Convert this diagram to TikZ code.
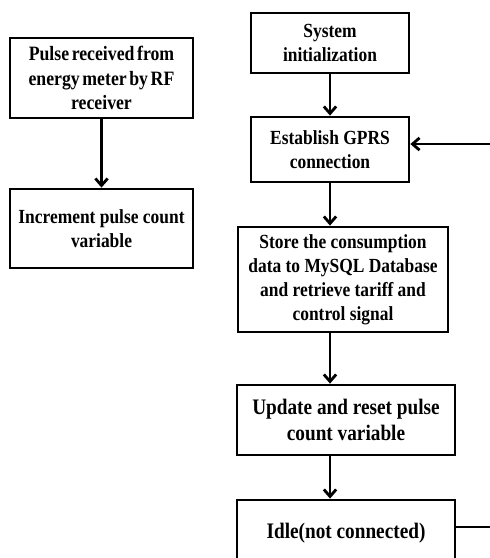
\documentclass[tikz,border=0pt]{standalone}
\usepackage{fontspec}
\setmainfont{Liberation Serif}[FakeStretch=0.87]
\usetikzlibrary{arrows.meta}

\begin{document}
\begin{tikzpicture}[x=0.02cm,y=-0.02cm,line width=1.6pt,>={Straight Barb[length=4pt,width=7pt]},
  box/.style={draw,rectangle,align=center,inner sep=2pt,font=\bfseries\fontsize{11.4}{13.6}\selectfont},
  big/.style={box,font=\bfseries\fontsize{12.6}{15}\selectfont},
  tight/.style={box,font=\bfseries\fontsize{11.6}{14}\selectfont,execute at begin node={\spaceskip=1.5pt plus 1pt\relax}}]
\useasboundingbox (0,0) rectangle (490,558);
% interrupt side
\node[tight,minimum width=3.66cm,minimum height=1.6cm] (pulse) at (101.5,78) {Pulse received from\\energy meter by RF\\receiver};
\node[box,minimum width=3.66cm,minimum height=1.58cm] (incr) at (101.5,228.5) {Increment pulse count\\variable};
% main loop
\node[box,minimum width=3.16cm,minimum height=1.2cm] (init) at (330,43) {System\\initialization};
\node[box,minimum width=3.16cm,minimum height=1.3cm] (gprs) at (330,149.5) {Establish GPRS\\connection};
\node[box,minimum width=4.2cm,minimum height=2.1cm] (store) at (343,279.5) {Store the consumption\\data to MySQL Database\\and retrieve tariff and\\control signal};
\node[big,minimum width=4.36cm,minimum height=1.4cm] (update) at (346,420) {Update and reset pulse\\count variable};
\node[big,minimum width=4.36cm,minimum height=1.32cm] (idle) at (346,533) {Idle(not connected)};
\coordinate (rim) at (491.5,0);
\coordinate (out) at ([yshift=0.12cm]idle.east);
\coordinate (in) at ([yshift=0.11cm]gprs.east);
\draw[->] (pulse) -- (incr);
\draw[->] (init) -- (gprs);
\draw[->] (gprs) -- (gprs |- store.north);
\draw[->] (store.south -| gprs) -- (update.north -| gprs);
\draw[->] (update.south -| gprs) -- (idle.north -| gprs);
\draw[->] (out) -- (out -| rim) |- (in);
\end{tikzpicture}
\end{document}
